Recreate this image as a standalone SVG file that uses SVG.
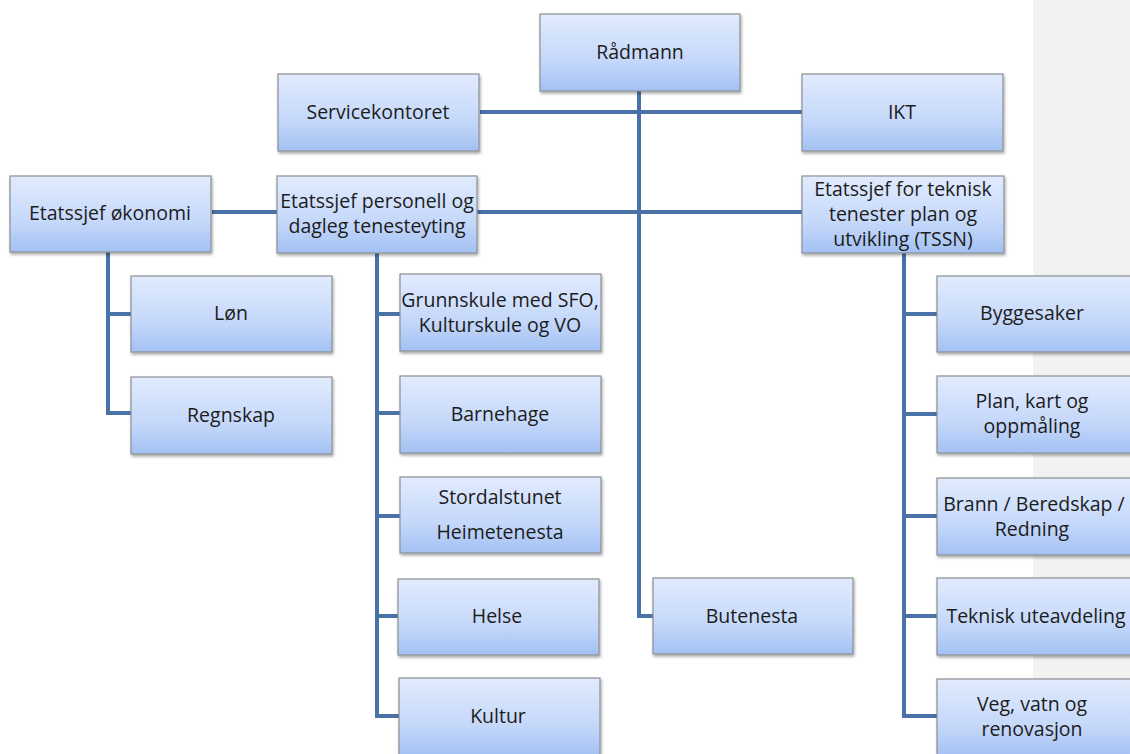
<svg xmlns="http://www.w3.org/2000/svg" width="1130" height="754" viewBox="0 0 1130 754">
<defs>
<linearGradient id="g" x1="0" y1="0" x2="0" y2="1">
<stop offset="0" stop-color="#e1ebfd"/>
<stop offset="0.6" stop-color="#c5d8fa"/>
<stop offset="1" stop-color="#a3c1f3"/>
</linearGradient>
<filter id="sh" x="-5%" y="-5%" width="115%" height="120%">
<feGaussianBlur in="SourceAlpha" stdDeviation="1.5"/>
<feOffset dx="1" dy="2"/>
<feComponentTransfer><feFuncA type="linear" slope="0.35"/></feComponentTransfer>
<feMerge><feMergeNode/><feMergeNode in="SourceGraphic"/></feMerge>
</filter>
</defs>
<style>
.b{fill:url(#g);stroke:#8c8f94;stroke-width:1.2;filter:url(#sh)}
.t{font-family:"Open Sans","Liberation Sans",sans-serif;font-size:19.5px;fill:#1c1c1c;text-anchor:middle}
.c{fill:none;stroke:#4a72a6;stroke-width:4}
</style>
<rect x="0" y="0" width="1130" height="754" fill="#ffffff"/>
<rect x="1033" y="0" width="97" height="754" fill="#f2f2f2"/>
<g id="connectors">
<path class="c" d="M639,91 V616 H653"/>
<path class="c" d="M480,112 H803"/>
<path class="c" d="M477,212 H803"/>
<path class="c" d="M212,212 H277"/>
<path class="c" d="M108,252 V413 H131 M108,314 H131"/>
<path class="c" d="M377,253 V716 H400 M377,314 H400 M377,413 H400 M377,516 H400 M377,616 H398"/>
<path class="c" d="M904,253 V716 H937 M904,314 H937 M904,414 H937 M904,516 H937 M904,616 H937"/>
</g>
<g id="radmann"><rect class="b" x="540" y="14" width="200" height="77"/><text class="t" x="640" y="59">Rådmann</text></g>
<g id="servicekontoret"><rect class="b" x="278" y="74" width="201" height="77"/><text class="t" x="378" y="119">Servicekontoret</text></g>
<g id="ikt"><rect class="b" x="802" y="74" width="201" height="77"/><text class="t" x="902" y="119">IKT</text></g>
<g id="okonomi"><rect class="b" x="10" y="176" width="201" height="76"/><text class="t" x="110" y="220">Etatssjef økonomi</text></g>
<g id="personell"><rect class="b" x="277" y="176" width="200" height="77"/><text class="t" x="377" y="208">Etatssjef personell og</text><text class="t" x="377" y="233">dagleg tenesteyting</text></g>
<g id="teknisk"><rect class="b" x="802" y="176" width="202" height="77"/><text class="t" x="903" y="196">Etatssjef for teknisk</text><text class="t" x="903" y="221">tenester plan og</text><text class="t" x="903" y="246">utvikling (TSSN)</text></g>
<g id="lon"><rect class="b" x="131" y="276" width="201" height="76"/><text class="t" x="231" y="320">Løn</text></g>
<g id="regnskap"><rect class="b" x="131" y="377" width="201" height="77"/><text class="t" x="231" y="422">Regnskap</text></g>
<g id="grunnskule"><rect class="b" x="400" y="274" width="201" height="77"/><text class="t" x="500" y="307">Grunnskule med SFO,</text><text class="t" x="500" y="332">Kulturskule og VO</text></g>
<g id="barnehage"><rect class="b" x="400" y="376" width="201" height="77"/><text class="t" x="500" y="421">Barnehage</text></g>
<g id="stordalstunet"><rect class="b" x="400" y="477" width="201" height="76"/><text class="t" x="500" y="504">Stordalstunet</text><text class="t" x="500" y="539">Heimetenesta</text></g>
<g id="helse"><rect class="b" x="398" y="579" width="201" height="76"/><text class="t" x="497" y="623">Helse</text></g>
<g id="kultur"><rect class="b" x="399" y="678" width="201" height="78"/><text class="t" x="498" y="723">Kultur</text></g>
<g id="butenesta"><rect class="b" x="653" y="578" width="200" height="76"/><text class="t" x="752" y="623">Butenesta</text></g>
<g id="byggesaker"><rect class="b" x="937" y="276" width="201" height="76"/><text class="t" x="1032" y="320">Byggesaker</text></g>
<g id="plan"><rect class="b" x="937" y="376" width="201" height="77"/><text class="t" x="1032" y="408">Plan, kart og</text><text class="t" x="1032" y="433">oppmåling</text></g>
<g id="brann"><rect class="b" x="937" y="478" width="201" height="77"/><text class="t" x="1034" y="511">Brann / Beredskap /</text><text class="t" x="1032" y="536">Redning</text></g>
<g id="uteavdeling"><rect class="b" x="937" y="578" width="201" height="77"/><text class="t" x="1036" y="623">Teknisk uteavdeling</text></g>
<g id="veg"><rect class="b" x="937" y="679" width="201" height="78"/><text class="t" x="1032" y="711">Veg, vatn og</text><text class="t" x="1032" y="736">renovasjon</text></g>
</svg>
